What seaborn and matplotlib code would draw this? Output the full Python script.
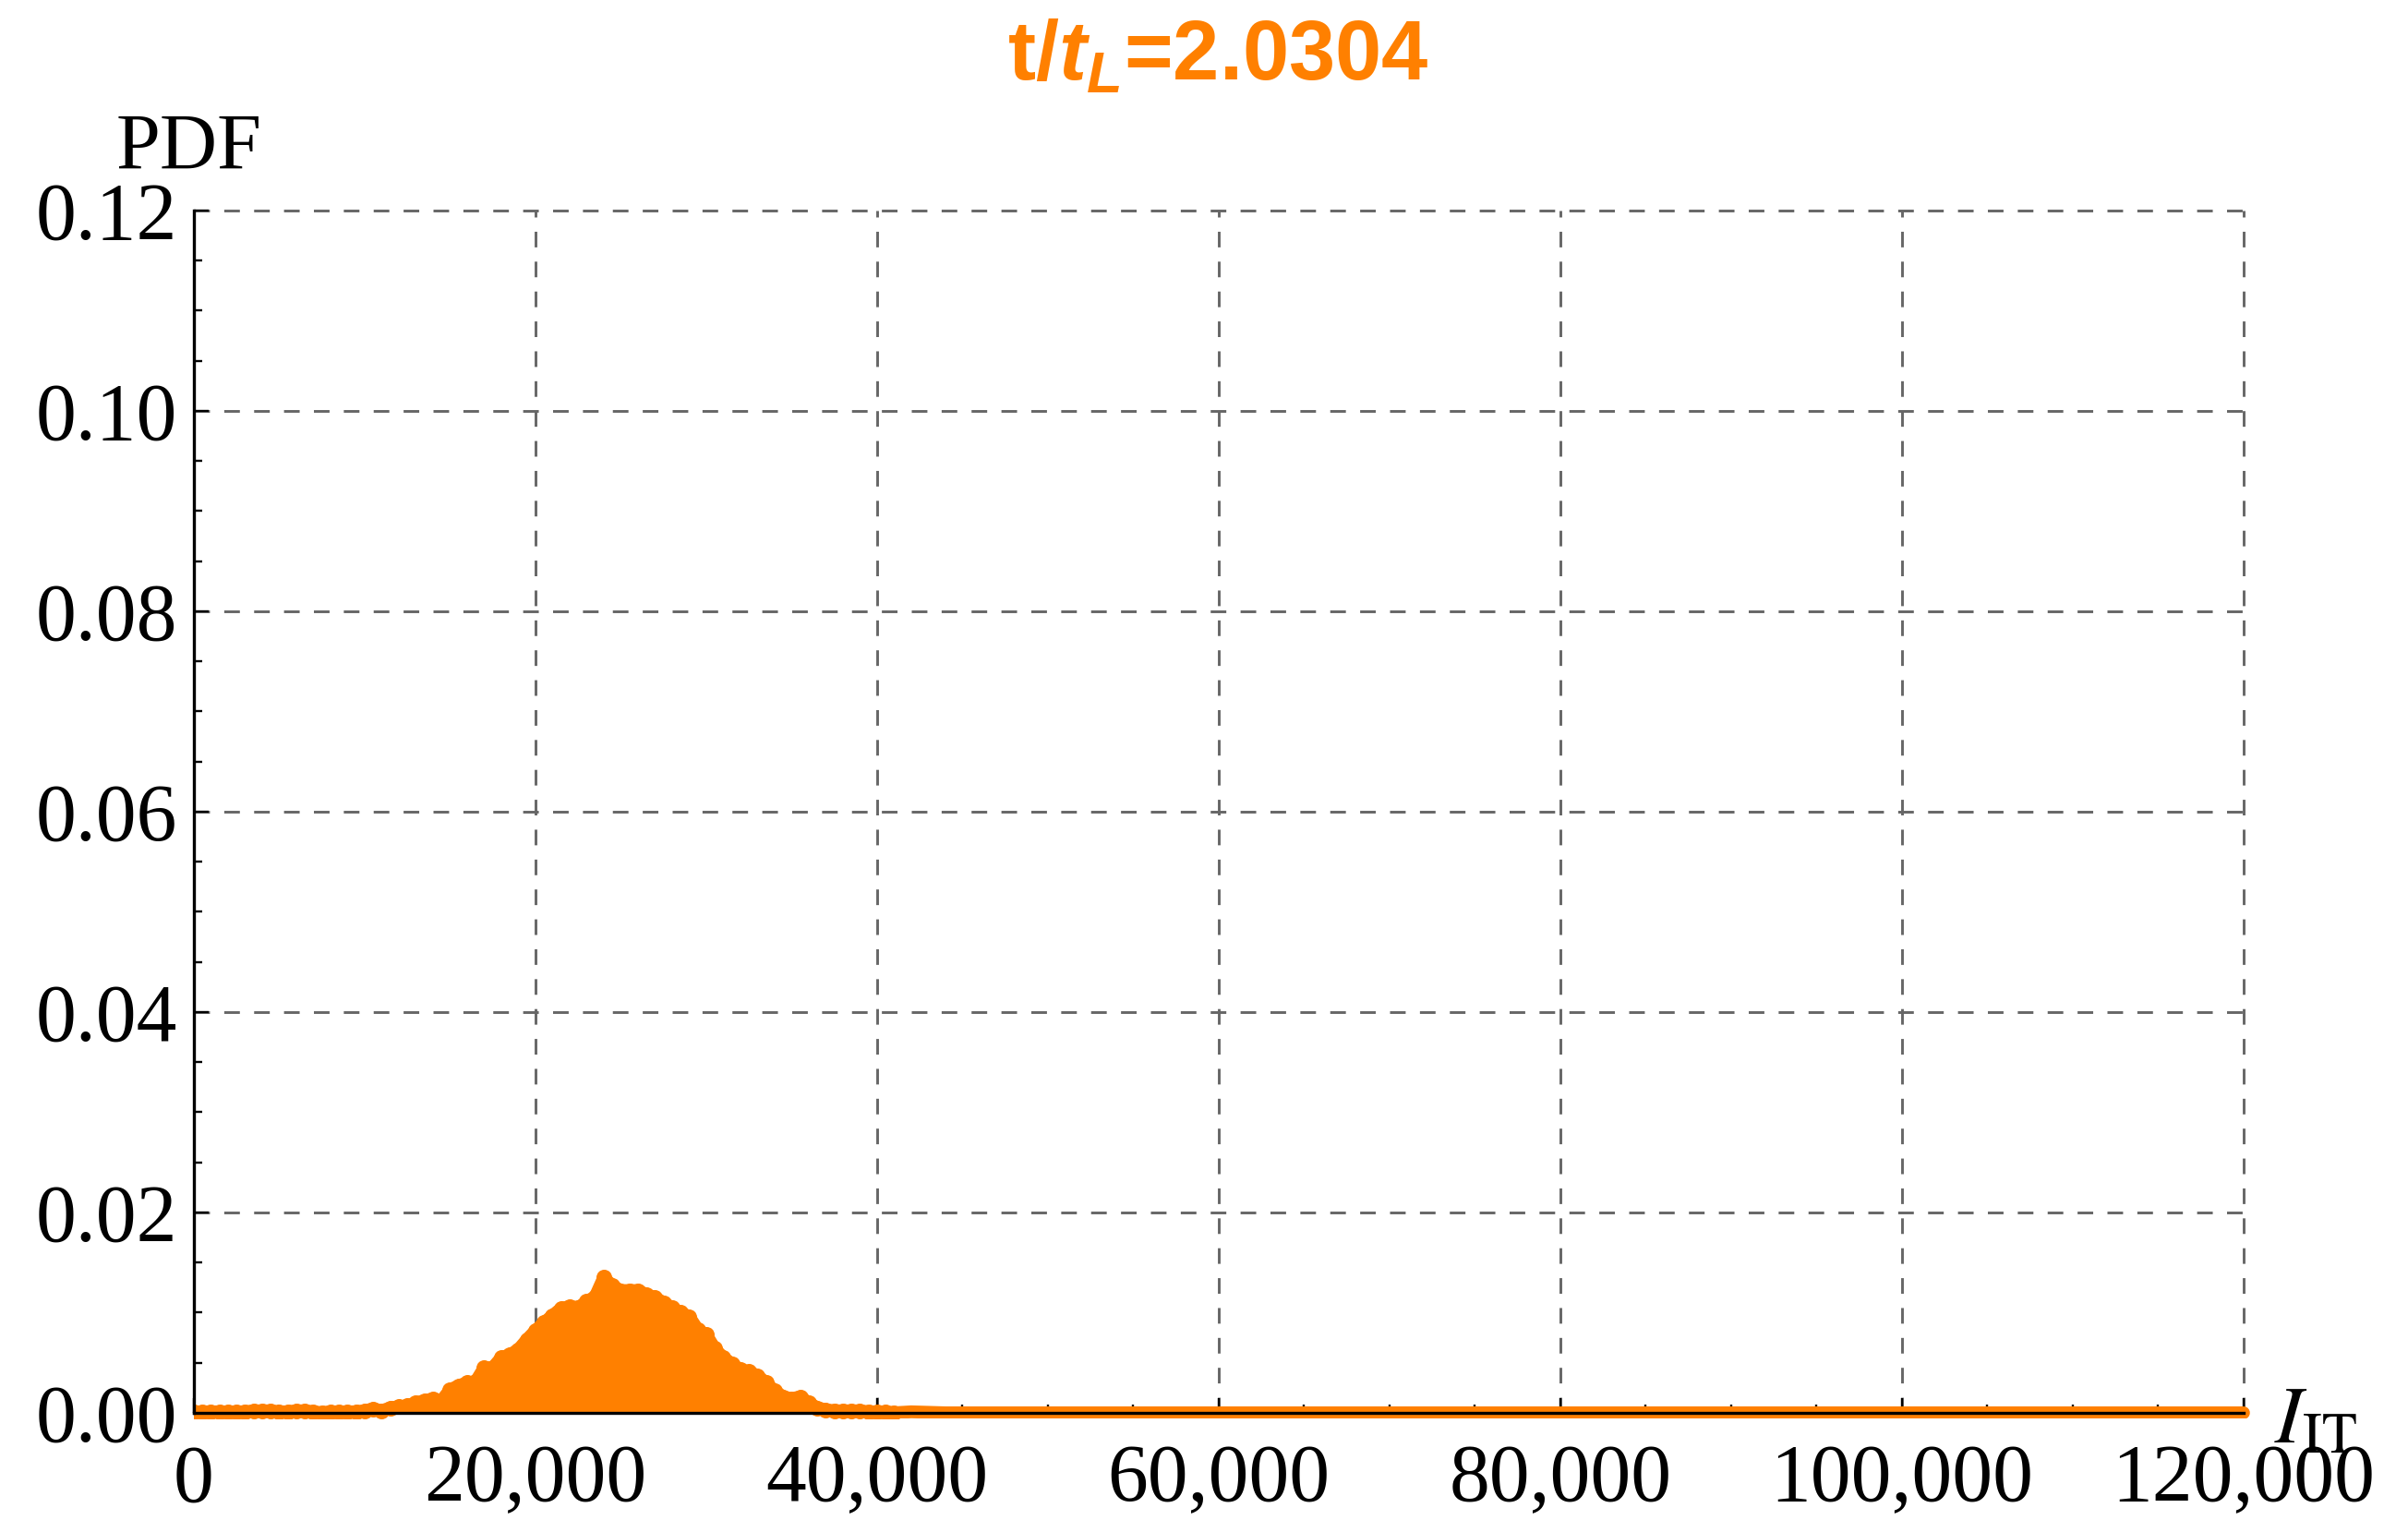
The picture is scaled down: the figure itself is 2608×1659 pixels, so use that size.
import matplotlib
matplotlib.use("Agg")
import matplotlib.pyplot as plt
import matplotlib.ticker as mticker
from matplotlib.patches import Rectangle
import pandas as pd
import seaborn as sns

# PDF of I_IT (bin centre, value)
hump_x = [0, 500, 1000, 1500, 2000, 2500, 3000, 3500, 4000, 4500,
          5000, 5500, 6000, 6500, 7000, 7500, 8000, 8500, 9000, 9500,
          10000, 10500, 11000, 11500, 12000, 12500, 13000, 13500, 14000, 14500,
          15000, 15500, 16000, 16500, 17000, 17500, 18000, 18500, 19000, 19500,
          20000, 20500, 21000, 21500, 22000, 22500, 23000, 23500, 24000, 24500,
          25000, 25500, 26000, 26500, 27000, 27500, 28000, 28500, 29000, 29500,
          30000, 30500, 31000, 31500, 32000, 32500, 33000, 33500, 34000, 34500,
          35000, 35500, 36000, 36500, 37000, 37500, 38000, 38500, 39000, 39500,
          40000, 40500, 41000]
hump_pdf = [0.0001, 0.0001, 0.0001, 0.0001, 0.0001, 0.0001, 0.0001, 0.0002, 0.0002, 0.0002,
            0.0001, 0.0001, 0.0002, 0.0002, 0.0001, 0.0000, 0.0001, 0.0001, 0.0001, 0.0001,
            0.0002, 0.0004, 0.0002, 0.0005, 0.0006, 0.0007, 0.0010, 0.0012, 0.0014, 0.0012,
            0.0023, 0.0027, 0.0030, 0.0031, 0.0045, 0.0045, 0.0055, 0.0058, 0.0063, 0.0073,
            0.0082, 0.0090, 0.0097, 0.0104, 0.0106, 0.0105, 0.0111, 0.0116, 0.0135, 0.0127,
            0.0122, 0.0122, 0.0122, 0.0118, 0.0115, 0.0110, 0.0105, 0.0100, 0.0096, 0.0083,
            0.0078, 0.0064, 0.0055, 0.0049, 0.0043, 0.0041, 0.0037, 0.0030, 0.0022, 0.0016,
            0.0014, 0.0016, 0.0010, 0.0005, 0.0003, 0.0002, 0.0002, 0.0002, 0.0002, 0.0001,
            0.0001, 0.0001, 0.0000]

tail_x = [42000, 44000, 46000, 48000, 50000, 52000, 54000, 56000, 58000, 60000,
          62000, 64000, 66000, 68000, 70000, 72000, 74000, 76000, 78000, 80000,
          82000, 84000, 86000, 88000, 90000, 92000, 94000, 96000, 98000, 100000,
          102000, 104000, 106000, 108000, 110000, 112000, 114000, 116000, 118000, 120000]
tail_pdf = [0.0001, 0.0000, 0.0000, 0.0000, 0.0000, 0.0000, 0.0000, 0.0000, 0.0000, 0.0000,
            0.0000, 0.0000, 0.0000, 0.0000, 0.0000, 0.0000, 0.0000, 0.0000, 0.0000, 0.0000,
            0.0000, 0.0000, 0.0000, 0.0000, 0.0000, 0.0000, 0.0000, 0.0000, 0.0000, 0.0000,
            0.0000, 0.0000, 0.0000, 0.0000, 0.0000, 0.0000, 0.0000, 0.0000, 0.0000, 0.0000]

x_ticks = [0, 20000, 40000, 60000, 80000, 100000, 120000]
y_ticks = [0.00, 0.02, 0.04, 0.06, 0.08, 0.10, 0.12]
title_text = "t/$t_L$=2.0304"
y_label = "PDF"
x_label = r"$I_{\mathrm{IT}}$"

orange = "#ff8000"
grid_grey = "#666666"

sns.set_theme(style="white")
plt.rcParams["font.family"] = ["Liberation Serif", "DejaVu Serif"]
plt.rcParams["mathtext.fontset"] = "custom"
plt.rcParams["mathtext.rm"] = "Liberation Sans:bold"
plt.rcParams["mathtext.it"] = "Liberation Sans:italic:bold"

df = pd.DataFrame({"I": hump_x + tail_x, "PDF": hump_pdf + tail_pdf})
hump = pd.DataFrame({"I": hump_x, "PDF": hump_pdf})

fig = plt.figure(figsize=(26.08, 16.59), dpi=100)
ax = fig.add_axes([0.0805, 0.0778, 0.8512, 0.7848])

# dashed grid behind the data
for gx in x_ticks[1:]:
    ax.axvline(gx, color=grid_grey, lw=2.1, ls=(0, (5.8, 5.3)), zorder=0.5, clip_on=False)
for gy in y_ticks[1:]:
    ax.axhline(gy, color=grid_grey, lw=2.1, ls=(0, (5.8, 5.3)), zorder=0.5, clip_on=False)

n0 = len(ax.collections) + len(ax.lines)
ax.fill_between(df["I"], 0, df["PDF"], color=orange, lw=0, zorder=2)
sns.lineplot(data=df, x="I", y="PDF", color=orange, lw=10, sort=False, estimator=None,
             ax=ax, zorder=2, solid_joinstyle="round", solid_capstyle="round")
sns.scatterplot(data=hump, x="I", y="PDF", color=orange, s=150, linewidth=0,
                ax=ax, zorder=2)

# Mathematica style: points spill a little below the axis and past the right end
clip = Rectangle((0, -6 / 1302), 1 + 7 / 2221, 1.05, transform=ax.transAxes)
for art in ax.collections + ax.lines:
    if art.get_zorder() == 2:
        art.set_clip_path(clip)

ax.set_xlim(0, 120000)
ax.set_ylim(0, 0.12)
ax.set_xticks(x_ticks)
ax.set_yticks(y_ticks)
ax.xaxis.set_minor_locator(mticker.MultipleLocator(5000))
ax.yaxis.set_minor_locator(mticker.MultipleLocator(0.005))
ax.xaxis.set_major_formatter(mticker.StrMethodFormatter("{x:,.0f}"))
ax.yaxis.set_major_formatter(mticker.StrMethodFormatter("{x:.2f}"))
ax.set_xlabel("")
ax.set_ylabel("")

for side in ["top", "right"]:
    ax.spines[side].set_visible(False)
for side in ["left", "bottom"]:
    ax.spines[side].set_color("black")
    ax.spines[side].set_linewidth(2.4)
    ax.spines[side].set_zorder(3)

ax.tick_params(which="both", direction="in", color="black", width=1.7,
               bottom=True, left=True, top=False, right=False, labelsize=63,
               labelcolor="black")
ax.tick_params(which="major", length=11.5)
ax.tick_params(which="minor", length=6.8)
ax.tick_params(axis="x", which="major", pad=24)
ax.tick_params(axis="y", which="major", pad=13)

fig.text(0.048, 0.8897, y_label, fontsize=62, color="black", va="baseline", ha="left")
fig.text(0.9444, 0.0585, x_label, fontsize=64, color="black", va="baseline", ha="left",
         math_fontfamily="stix")
fig.text(0.506, 0.9476, title_text, fontsize=65, fontweight="bold", color=orange,
         family="Liberation Sans", va="baseline", ha="center")

fig.savefig("out.png", dpi=100)
